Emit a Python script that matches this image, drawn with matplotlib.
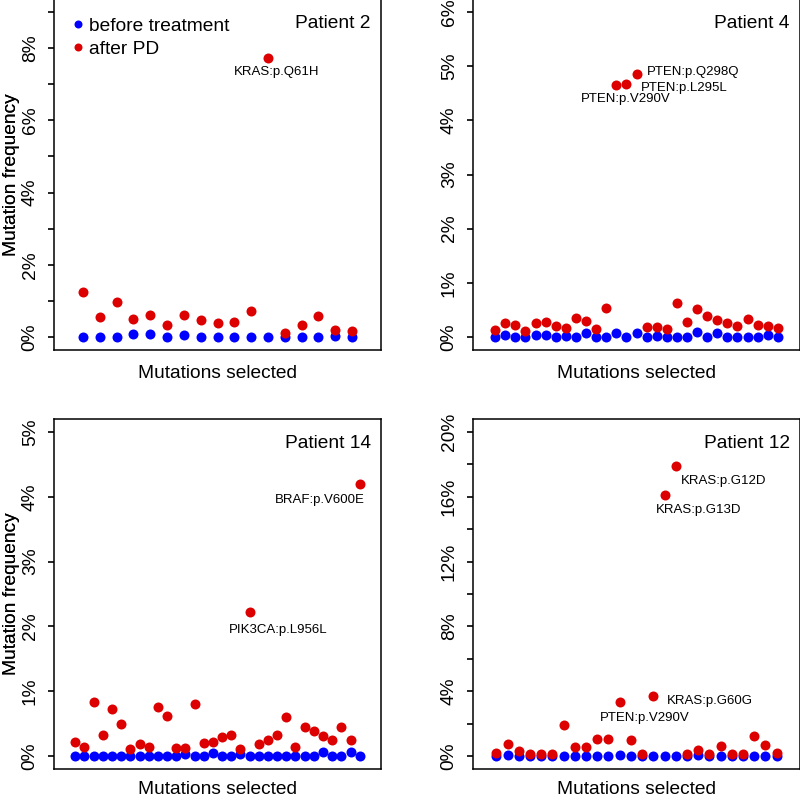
import numpy as np
import matplotlib
matplotlib.use("Agg")
import matplotlib.pyplot as plt

plt.rcParams['font.family'] = ['Liberation Sans', 'DejaVu Sans']

# mutation frequencies in percent, one entry per selected mutation
p2_before = [0, 0, 0, 0.08, 0.07, 0, 0.06, 0, 0, 0, 0, 0, 0, 0, 0, 0.03, 0]
p2_after = [1.24, 0.56, 0.98, 0.49, 0.62, 0.33, 0.61, 0.47, 0.38, 0.42, 0.71,
            7.73, 0.10, 0.33, 0.57, 0.19, 0.17]

p4_before = [0, 0.04, 0, 0, 0.04, 0.04, 0, 0.02, 0, 0.07, 0, 0, 0.08, 0, 0.08,
             0, 0.01, 0, 0, 0, 0.10, 0, 0.07, 0, 0, 0, 0, 0.03, 0]
p4_after = [0.13, 0.25, 0.22, 0.11, 0.25, 0.27, 0.20, 0.17, 0.36, 0.30, 0.14,
            0.53, 4.66, 4.67, 4.86, 0.18, 0.18, 0.14, 0.62, 0.28, 0.52, 0.39,
            0.32, 0.26, 0.20, 0.34, 0.22, 0.20, 0.16]

p14_before = [0, 0, 0, 0, 0, 0, 0, 0, 0, 0, 0, 0, 0.03, 0, 0, 0.05, 0, 0, 0.03,
              0, 0, 0, 0, 0, 0, 0, 0, 0.06, 0, 0, 0.06, 0]
p14_after = [0.21, 0.14, 0.84, 0.33, 0.72, 0.50, 0.11, 0.18, 0.14, 0.76, 0.62,
             0.13, 0.13, 0.81, 0.20, 0.21, 0.30, 0.32, 0.11, 2.22, 0.18, 0.24,
             0.33, 0.60, 0.14, 0.45, 0.39, 0.31, 0.24, 0.45, 0.24, 4.20]

p12_before = [0, 0.08, 0, 0, 0, 0, 0, 0, 0, 0, 0, 0.08, 0, 0, 0, 0, 0, 0, 0.05,
              0, 0, 0, 0, 0, 0, 0]
p12_after = [0.21, 0.74, 0.31, 0.10, 0.12, 0.12, 1.92, 0.58, 0.58, 1.07, 1.05,
             3.34, 0.97, 0.10, 3.71, 16.13, 17.88, 0.10, 0.37, 0.10, 0.64, 0.12,
             0.12, 1.24, 0.70, 0.16]

# (mutation index starting at 1, label, offset of label centre in pixels)
p2_labels = [(12, "KRAS:p.Q61H", (9, -14))]
p4_labels = [(15, "PTEN:p.Q298Q", (57, 2)),
             (14, "PTEN:p.L295L", (58, -4)),
             (13, "PTEN:p.V290V", (9, -14))]
p14_labels = [(32, "BRAF:p.V600E", (-40, -16)),
              (20, "PIK3CA:p.L956L", (29, -18))]
p12_labels = [(17, "KRAS:p.G12D", (48, -15)),
              (16, "KRAS:p.G13D", (34, -15)),
              (15, "KRAS:p.G60G", (57, -5)),
              (12, "PTEN:p.V290V", (25, -16))]

BLUE = "#0000FF"
RED = "#DD0000"
FS = 13.8

fig = plt.figure(figsize=(8, 8), dpi=100)
W, H = 800, 800


def panel(box, before, after, title, ymax, ticks, labelled, labels,
          xlab_y=-0.044, legend=False):
    x0, y0, x1, y1 = box  # pixel box of the axes
    ax = fig.add_axes([x0 / W, 1 - y1 / H, (x1 - x0) / W, (y1 - y0) / H])
    n = len(after)
    x = np.arange(1, n + 1)
    ax.plot(x, before, 'o', color=BLUE, ms=7.2, mec='none', label="before treatment")
    ax.plot(x, after, 'o', color=RED, ms=7.2, mec='none', label="after PD")
    ext = 0.04 * (n + 1)
    ax.set_xlim(-ext, n + 1 + ext)
    ax.set_ylim(-0.04 * ymax, ymax * 1.04)
    ax.set_xticks([])
    ax.set_yticks(ticks)
    ax.set_yticklabels([f"{t}%" if t in labelled else "" for t in ticks],
                       rotation=90, va='center', fontsize=FS)
    ax.tick_params(axis='y', length=4.5, width=1.2, pad=6.5, direction='out')
    for s in ax.spines.values():
        s.set_linewidth(1.1)
    ax.set_ylabel("Mutation frequency", fontsize=FS)
    ax.yaxis.set_label_coords((20 - x0) / (x1 - x0), 0.5)
    ax.set_xlabel("Mutations selected", fontsize=FS)
    ax.xaxis.set_label_coords(0.5, xlab_y)
    ax.text(0.969, 0.931, title, transform=ax.transAxes, ha='right', va='center',
            fontsize=FS)
    for idx, txt, off in labels:
        ax.annotate(txt, (idx, after[idx - 1]), xytext=off, textcoords='offset pixels',
                    ha='center', va='center', fontsize=9.5)
    if legend:
        ax.legend(loc='upper left', bbox_to_anchor=(0.0, 1.0), frameon=False,
                  fontsize=FS, markerscale=0.8, handlelength=0.6, handletextpad=0.3,
                  labelspacing=0.3, borderaxespad=0.65, borderpad=0.3)
    return ax


panel((54, -1, 381, 350), p2_before, p2_after, "Patient 2", 9,
      list(range(0, 10)), [0, 2, 4, 6, 8], p2_labels, legend=True)
panel((473, -1, 800, 350), p4_before, p4_after, "Patient 4", 6,
      list(range(0, 7)), list(range(0, 7)), p4_labels)
panel((54, 419, 381, 769), p14_before, p14_after, "Patient 14", 5,
      list(range(0, 6)), list(range(0, 6)), p14_labels, xlab_y=-0.035)
panel((473, 419, 800, 769), p12_before, p12_after, "Patient 12", 20,
      list(range(0, 21, 2)), [0, 4, 8, 12, 16, 20], p12_labels, xlab_y=-0.035)

fig.savefig("out.png", dpi=100)
